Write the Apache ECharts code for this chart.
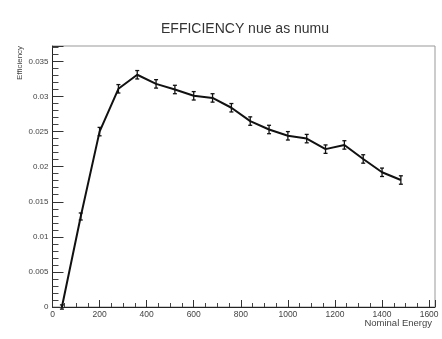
<!DOCTYPE html>
<html>
<head>
<meta charset="utf-8">
<script src="https://cdn.jsdelivr.net/npm/echarts@6/dist/echarts.min.js"></script>
<style>
  html, body { margin: 0; padding: 0; background: #fff; }
  #chart { width: 442px; height: 339px; }
</style>
</head>
<body>
<div id="chart"></div>
<script>
// Nominal energy bin centres
const energy = [40, 120, 200, 280, 360, 440, 520, 600, 680, 760, 840, 920, 1000, 1080, 1160, 1240, 1320, 1400, 1480];
// Efficiency per bin
const efficiency = [0.0, 0.0129, 0.0250, 0.0311, 0.0331, 0.0318, 0.0310, 0.0301, 0.0298, 0.0284, 0.0265, 0.0253, 0.0244, 0.0240, 0.0225, 0.0231, 0.0211, 0.0192, 0.0181];
// Statistical error per bin
const efficiencyErr = [0.0003, 0.0005, 0.0006, 0.0006, 0.0006, 0.0006, 0.0006, 0.0006, 0.0006, 0.0006, 0.0006, 0.0006, 0.0006, 0.0006, 0.0006, 0.0006, 0.0006, 0.0006, 0.0006];
// Axis tick labels
const yTickLabels = ['0', '0.005', '0.01', '0.015', '0.02', '0.025', '0.03', '0.035'];
const xTickLabels = ['0', '200', '400', '600', '800', '1000', '1200', '1400', '1600'];

const chart = echarts.init(document.getElementById('chart'), null, { renderer: 'canvas' });

const lineData = energy.map((e, i) => [e, efficiency[i]]);
const errData = energy.map((e, i) => [e, efficiency[i] - efficiencyErr[i], efficiency[i] + efficiencyErr[i]]);

const FONT = 'Liberation Sans, Arial, sans-serif';

chart.setOption({
  animation: false,
  backgroundColor: '#fff',
  title: {
    text: 'EFFICIENCY nue as numu',
    left: 156,
    top: 17,
    textStyle: { fontFamily: FONT, fontSize: 14, fontWeight: 'normal', color: '#333' }
  },
  grid: {
    left: 52.5, right: 7, top: 46, bottom: 32,
    show: true, borderColor: '#999', borderWidth: 1, backgroundColor: '#fff'
  },
  xAxis: {
    type: 'value',
    min: 0, max: 1625, interval: 200,
    axisLine: { show: true, lineStyle: { color: '#222', width: 1 } },
    axisTick: { show: true, inside: true, length: 7, lineStyle: { color: '#333' } },
    minorTick: { show: true, splitNumber: 4, length: 4, lineStyle: { color: '#444' } },
    splitLine: { show: false },
    axisLabel: {
      fontFamily: FONT, fontSize: 8.5, color: '#444',
      margin: 3,
      showMaxLabel: false,
      formatter: v => { const i = Math.round(v / 200); return Math.abs(v - i * 200) < 1e-6 ? (xTickLabels[i] || '') : ''; }
    }
  },
  yAxis: {
    type: 'value',
    min: 0, max: 0.0372, interval: 0.005,
    axisLine: { show: true, lineStyle: { color: '#222', width: 1 } },
    axisTick: { show: true, inside: true, length: 11, lineStyle: { color: '#333' } },
    minorTick: { show: true, splitNumber: 5, length: 6, lineStyle: { color: '#444' } },
    splitLine: { show: false },
    axisLabel: {
      fontFamily: FONT, fontSize: 8, color: '#444',
      margin: 4,
      showMaxLabel: false,
      formatter: v => { const i = Math.round(v / 0.005); return Math.abs(v - i * 0.005) < 1e-9 ? (yTickLabels[i] || '') : ''; }
    }
  },
  graphic: [
    {
      type: 'text', x: 20, y: 80, rotation: Math.PI / 2,
      style: { text: 'Efficiency', fill: '#444', font: '8px ' + FONT, textAlign: 'left', textVerticalAlign: 'middle' }
    },
    {
      type: 'text', x: 432, y: 323,
      style: { text: 'Nominal Energy', fill: '#444', font: '9.5px ' + FONT, textAlign: 'right', textVerticalAlign: 'middle' }
    }
  ],
  series: [
    {
      type: 'line',
      data: lineData,
      symbol: 'none',
      lineStyle: { color: '#111', width: 2 },
      z: 3
    },
    {
      type: 'custom',
      data: errData,
      z: 4,
      renderItem: (params, api) => {
        const x = api.value(0);
        const lo = api.coord([x, api.value(1)]);
        const hi = api.coord([x, api.value(2)]);
        const cap = 2;
        const style = { stroke: '#111', lineWidth: 1.3, fill: null };
        return {
          type: 'group',
          children: [
            { type: 'line', shape: { x1: lo[0], y1: lo[1], x2: hi[0], y2: hi[1] }, style },
            { type: 'line', shape: { x1: lo[0] - cap, y1: lo[1], x2: lo[0] + cap, y2: lo[1] }, style },
            { type: 'line', shape: { x1: hi[0] - cap, y1: hi[1], x2: hi[0] + cap, y2: hi[1] }, style }
          ]
        };
      }
    }
  ]
});
</script>
</body>
</html>
